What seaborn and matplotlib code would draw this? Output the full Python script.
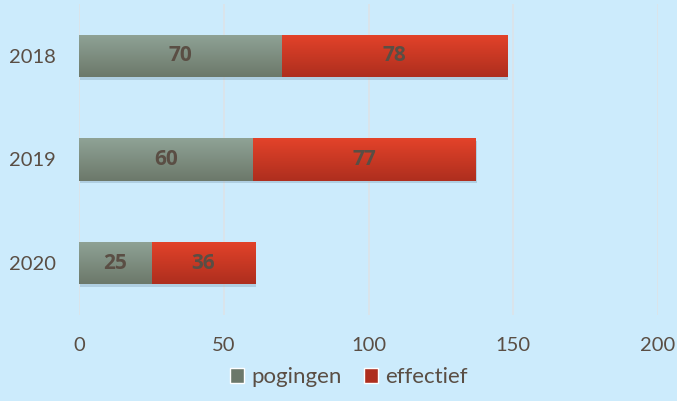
import numpy as np
import pandas as pd
import seaborn as sns
import matplotlib.pyplot as plt
from matplotlib.patches import Patch, Rectangle
from matplotlib.colors import LinearSegmentedColormap

# data
jaren = ["2018", "2019", "2020"]
pogingen = [70, 60, 25]
effectief = [78, 77, 36]
x_ticks = [0, 50, 100, 150, 200]

achtergrond = "#CCEBFC"
tekst_kleur = "#5A4E44"
grijs = ("#8FA396", "#6C786A")
rood = ("#E3432A", "#AE2E1E")

sns.set_theme(style="white")
plt.rcParams["font.family"] = ["Lato", "DejaVu Sans"]

df = pd.DataFrame({"jaar": jaren, "pogingen": pogingen, "effectief": effectief})
df["totaal"] = df["pogingen"] + df["effectief"]

fig = plt.figure(figsize=(6.77, 4.01), dpi=100, facecolor=achtergrond)
ax = fig.add_axes([0.1167, 0.2145, 0.8553, 0.7755])
ax.set_facecolor(achtergrond)

# totaal eerst (rood), dan pogingen erover (grijs)
sns.barplot(data=df, y="jaar", x="totaal", color=rood[0], width=0.41, ax=ax,
            orient="h", saturation=1)
n_tot = len(ax.patches)
sns.barplot(data=df, y="jaar", x="pogingen", color=grijs[0], width=0.41, ax=ax,
            orient="h", saturation=1)

# gradient vullen + schaduw
def gradient(patch, kleuren, z):
    x0, y0 = patch.get_x(), patch.get_y()
    w, h = patch.get_width(), patch.get_height()
    cmap = LinearSegmentedColormap.from_list("g", list(kleuren))
    grad = np.linspace(0, 1, 100).reshape(-1, 1)
    im = ax.imshow(grad, cmap=cmap, aspect="auto", extent=[x0, x0 + w, y0 + h, y0],
                   origin="upper", zorder=z)
    im.set_clip_path(patch)
    patch.set_edgecolor("none")

for i, p in enumerate(ax.patches[:n_tot]):
    sh = Rectangle((p.get_x() + 0.3, p.get_y() + 0.025), p.get_width(), p.get_height(),
                   facecolor="#7a9ab0", alpha=0.35, edgecolor="none", zorder=1)
    ax.add_patch(sh)
    p.set_zorder(2)
    gradient(p, rood, 2.1)
for p in ax.patches[n_tot:n_tot + len(jaren)]:
    p.set_zorder(3)
    gradient(p, grijs, 3.1)

# labels
for i in range(len(jaren)):
    ax.text(pogingen[i] / 2, i, str(pogingen[i]), ha="center", va="center",
            fontsize=15, fontweight="bold", color=tekst_kleur, zorder=5,
            family="Open Sans")
    ax.text(pogingen[i] + effectief[i] / 2, i, str(effectief[i]), ha="center",
            va="center", fontsize=15, fontweight="bold", color=tekst_kleur, zorder=5,
            family="Open Sans")

ax.set_xlim(0, 200)
ax.set_ylim(2.5, -0.5)
ax.set_xticks(x_ticks)
ax.set_xlabel("")
ax.set_ylabel("")
ax.tick_params(axis="both", length=0, labelsize=14.5, colors=tekst_kleur)
ax.tick_params(axis="x", pad=16)
ax.tick_params(axis="y", pad=16.5)
ax.grid(axis="x", color="#DCE3E8", linewidth=1.2)
ax.set_axisbelow(True)
for s in ax.spines.values():
    s.set_visible(False)

handles = [Patch(facecolor=grijs[1], label="pogingen"),
           Patch(facecolor=rood[1], label="effectief")]
fig.legend(handles=handles, loc="lower center", bbox_to_anchor=(0.515, -0.015), ncol=2,
           frameon=False, fontsize=16, labelcolor=tekst_kleur, handlelength=0.65,
           handleheight=0.65, handletextpad=0.3, columnspacing=1.0)

fig.savefig("out.png", dpi=100, facecolor=achtergrond)
